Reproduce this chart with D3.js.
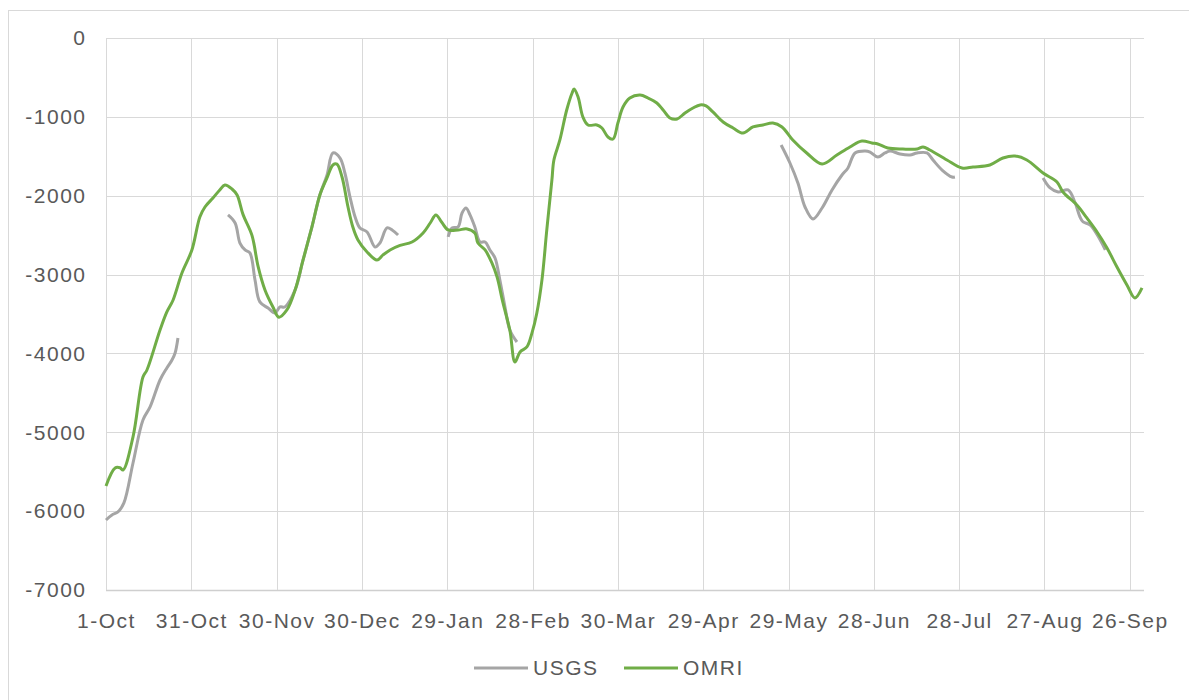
<!DOCTYPE html>
<html>
<head>
<meta charset='utf-8'>
<title>USGS vs OMRI</title>
<style>
  body { margin: 0; background: #fff; }
  text { font-family: 'Liberation Sans', Arial, sans-serif; fill: #595959; }
</style>
<script src='https://d3js.org/d3.v7.min.js'></script>
</head>
<body>
<div id="container"></div>
<script>
// ******* Data (day offset from 1-Oct, value) *******
const startDate = '2014-10-01';
const tickDays = [0, 30, 60, 90, 120, 150, 180, 210, 240, 270, 300, 330, 360];
const yTicks = [0, -1000, -2000, -3000, -4000, -5000, -6000, -7000];

const omriDays = [0, 3.2, 4.9, 6, 9.5, 13, 14.4, 19, 21.4, 23.6, 26.7, 30.2, 33, 34.8, 37.6, 40,
  41.8, 44.3, 46.1, 48.2, 51.3, 53.5, 55.9, 58.7, 60.8, 63.6, 66.5, 69.3, 72.4, 75.2, 77.7, 79.8,
  81.2, 83, 85.1, 86.8, 88.6, 91.8, 95.3, 97.4, 99.9, 103.4, 107.6, 111.5, 114, 116, 118, 120.3,
  123.8, 127, 129.7, 130.8, 133.3, 135.7, 137.5, 139.6, 142, 143.8, 145.6, 148, 149.8, 151.5,
  153.3, 155, 156.8, 157.5, 159.6, 162, 163.9, 164.6, 166, 167.7, 169.5, 172.6, 174.4, 176.5,
  178.3, 180, 181.8, 184.2, 187.8, 190.6, 193.7, 195.9, 198.3, 200.8, 203.6, 206.4, 208.9, 211,
  213.4, 217, 220.5, 224, 227.5, 231, 234.5, 237.7, 241.5, 246.4, 251.8, 257, 261.6, 265.8,
  269.3, 271.4, 274.9, 280.2, 285.2, 287.3, 289.7, 295.7, 301, 304.9, 310.8, 315.4, 319.6,
  323.8, 329.5, 334.4, 336.5, 341.4, 344.9, 348.5, 352, 355.5, 359, 361.8, 364.3];
const omriValues = [-5680, -5452, -5450, -5478, -5059, -4298, -4210, -3703, -3474, -3322, -2980, -2688, -2270, -2143, -2029, -1927,
  -1864, -1915, -1991, -2240, -2500, -2900, -3195, -3411, -3540, -3449, -3195, -2815, -2397, -1991, -1775, -1610,
  -1600, -1763, -2143, -2397, -2561, -2713, -2815, -2751, -2688, -2630, -2587, -2473, -2346, -2244, -2333, -2434,
  -2434, -2421, -2473, -2600, -2688, -2853, -3030, -3360, -3703, -4108, -3981, -3918, -3740, -3487,
  -3068, -2434, -1800, -1547, -1293, -913, -697, -647, -748, -1002, -1103, -1103, -1141, -1255,
  -1281, -1078, -875, -761, -723, -761, -824, -913, -1014, -1027, -951, -888, -849, -862,
  -938, -1065, -1141, -1205, -1128, -1103, -1078, -1128, -1293, -1458, -1598, -1484, -1382, -1306,
  -1331, -1344, -1395, -1408, -1408, -1382, -1420, -1547, -1648, -1636, -1610, -1522, -1496,
  -1547, -1712, -1826, -1953, -2118, -2282, -2460, -2663, -2904, -3132, -3297, -3170];

// null marks a gap in the USGS record
const usgsDays = [0, 2.1, 4.2, 6.3, 9.5, 13, 15.5, 19, 21.4, 23.2, 24.3, 25.3, null,
  42.9, 45.4, 47.1, 48.9, 50.6, 52.4, 54.1, 57, 59.4, 61.2, 62.9, 66.5, 69.3, 72.4, 75.2, 77.7,
  79.8, 82.3, 84, 85.8, 87.6, 89.3, 91.8, 94.6, 96.3, 98.8, 100.6, 102.7, null,
  120.3, 121.7, 123.8, 125.2, 126.6, 128, 129.7, 131.5, 133.3, 135, 136.8, 138.5, 140.3, 142, 144.5, null,
  237.4, 240.5, 243.3, 245.8, 248.6, 251.8, 255.3, 258.8, 260.9, 263.4, 266.9, 268.7, 271.4, 273.9,
  275.7, 279.2, 282.7, 285.2, 288.7, 290.8, 294, 297.5, 298.5, null,
  329.5, 332, 334.8, 338.3, 340.8, 342.5, 343.6, 346.1, 349.6, 351.4];
const usgsValues = [-6112, -6048, -6010, -5896, -5389, -4844, -4679, -4337, -4184, -4083, -3994, -3804, null,
  -2244, -2346, -2600, -2688, -2726, -3068, -3347, -3424, -3487, -3411, -3411, -3195, -2815, -2397, -1991, -1740,
  -1458, -1522, -1712, -2016, -2270, -2409, -2460, -2650, -2600, -2409, -2434, -2498, null,
  -2523, -2409, -2396, -2219, -2156, -2244, -2396, -2587, -2587, -2688, -2790, -3068, -3411, -3703, -3855, null,
  -1357, -1585, -1839, -2143, -2295, -2156, -1927, -1737, -1648, -1458, -1433, -1446, -1509, -1458,
  -1433, -1471, -1484, -1458, -1458, -1547, -1674, -1762, -1762, null,
  -1775, -1902, -1953, -1927, -2092, -2270, -2333, -2371, -2561, -2688];

// ******* Constants *******
const width = 1189,
      height = 700,
      margin = { top: 38, left: 106, right: 45, bottom: 110 },
      fontSize = 21,
      spacing = 1.5;

const start = d3.utcParse('%Y-%m-%d')(startDate);
const dayToDate = d => new Date(start.getTime() + d * 864e5);

// ******* Scales *******
const x = d3.scaleUtc()
    .domain([start, dayToDate(365)])
    .range([margin.left, width - margin.right]);
const y = d3.scaleLinear()
    .domain([-7000, 0])
    .range([height - margin.bottom, margin.top]);

// ******* Create SVG *******
const svg = d3.select('#container').append('svg')
    .attr('width', width)
    .attr('height', height)
    .style('display', 'block');

// chart border
svg.append('rect')
    .attr('x', 8.5).attr('y', 10.5)
    .attr('width', 1300).attr('height', 800)
    .attr('fill', 'none').attr('stroke', '#d9d9d9');

// ******* Grid *******
svg.append('g')
    .selectAll('line')
    .data(yTicks)
    .join('line')
    .attr('x1', margin.left).attr('x2', width - margin.right)
    .attr('y1', d => Math.round(y(d)) + 0.5).attr('y2', d => Math.round(y(d)) + 0.5)
    .attr('stroke', d => d === -7000 ? '#cfcfcf' : '#d9d9d9')
    .attr('stroke-width', d => d === -7000 ? 1.5 : 1);

svg.append('g')
    .selectAll('line')
    .data(tickDays)
    .join('line')
    .attr('x1', d => Math.round(x(dayToDate(d))) + 0.5).attr('x2', d => Math.round(x(dayToDate(d))) + 0.5)
    .attr('y1', margin.top).attr('y2', y(-7000))
    .attr('stroke', '#d9d9d9');

// ******* Axes *******
const yAxis = svg.append('g')
    .attr('transform', `translate(${margin.left - 19.5}, 0)`)
    .call(d3.axisLeft(y).tickValues(yTicks).tickSize(0).tickPadding(0).tickFormat(d => String(d)));
yAxis.select('.domain').remove();
yAxis.selectAll('text')
    .attr('font-size', fontSize).attr('letter-spacing', spacing)
    .attr('font-family', "'Liberation Sans', Arial, sans-serif")
    .attr('fill', '#595959');

const fmt = d3.utcFormat('%-d-%b');
const xAxis = svg.append('g')
    .attr('transform', `translate(0, ${y(-7000)})`)
    .call(d3.axisBottom(x).tickValues(tickDays.map(dayToDate)).tickSize(0).tickPadding(23).tickFormat(fmt));
xAxis.select('.domain').remove();
xAxis.selectAll('text')
    .attr('font-size', fontSize).attr('letter-spacing', spacing)
    .attr('font-family', "'Liberation Sans', Arial, sans-serif")
    .attr('fill', '#595959');

// ******* Lines *******
const line = d3.line()
    .defined(d => d[1] !== null)
    .x(d => x(dayToDate(d[0])))
    .y(d => y(d[1]))
    .curve(d3.curveCatmullRom.alpha(0.5));

svg.append('path')
    .datum(d3.zip(usgsDays, usgsValues))
    .attr('d', line)
    .attr('fill', 'none')
    .attr('stroke', '#a5a5a5')
    .attr('stroke-width', 3)
    .attr('stroke-linejoin', 'round');

svg.append('path')
    .datum(d3.zip(omriDays, omriValues))
    .attr('d', line)
    .attr('fill', 'none')
    .attr('stroke', '#70ad47')
    .attr('stroke-width', 3)
    .attr('stroke-linejoin', 'round');

// ******* Legend *******
const legend = svg.append('g').attr('transform', 'translate(0, 668)');
const items = [
  { name: 'USGS', color: '#a5a5a5', x: 474 },
  { name: 'OMRI', color: '#70ad47', x: 624 }
];
items.forEach(it => {
  legend.append('line')
      .attr('x1', it.x).attr('x2', it.x + 54)
      .attr('stroke', it.color).attr('stroke-width', 3);
  legend.append('text')
      .attr('x', it.x + 59).attr('dy', '0.35em')
      .attr('font-size', fontSize).attr('letter-spacing', spacing)
      .text(it.name);
});
</script>
</body>
</html>
